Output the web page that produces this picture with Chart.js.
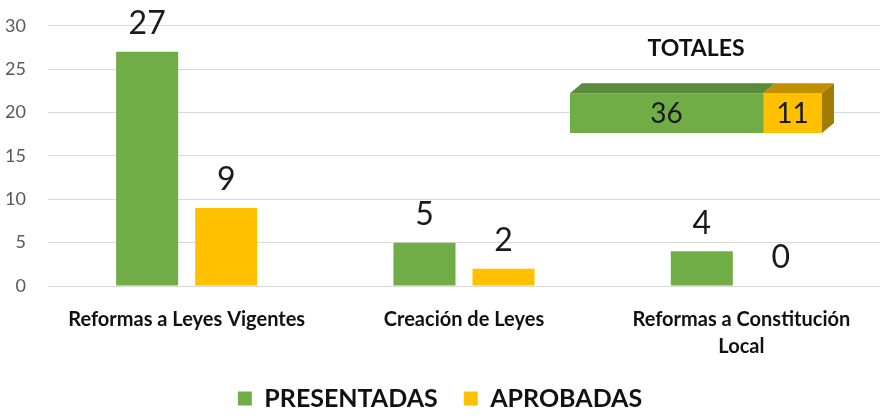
<!DOCTYPE html>
<html>
<head>
<meta charset="utf-8">
<script src="https://cdn.jsdelivr.net/npm/chart.js@4.4.1/dist/chart.umd.min.js"></script>
<style>
  html, body { margin: 0; padding: 0; background: #fff; }
  #wrap { position: relative; width: 880px; height: 416px; overflow: hidden; }
  #main { position: absolute; left: 0; top: -7px; }
  #totals { position: absolute; left: 558px; top: 27px; }
</style>
</head>
<body>
<div id="wrap">
  <canvas id="main" width="880" height="428"></canvas>
  <canvas id="totals" width="290" height="115"></canvas>
</div>
<script>
const categories = ['Reformas a Leyes Vigentes', 'Creación de Leyes', ['Reformas a Constitución', 'Local']];
const presentadas = [27, 5, 4];
const aprobadas = [9, 2, 0];
const yTicks = [0, 5, 10, 15, 20, 25, 30];
const totalPresentadas = [36];
const totalAprobadas = [11];

const GREEN = '#70AD47';
const YELLOW = '#FFC000';
const FONT = "Lato, 'Open Sans', sans-serif";

// numbers above each bar
const valueLabels = {
  id: 'valueLabels',
  afterDatasetsDraw(chart) {
    const ctx = chart.ctx;
    ctx.save();
    ctx.font = '32px ' + FONT;
    ctx.fillStyle = '#1a1a1a';
    ctx.textAlign = 'center';
    ctx.textBaseline = 'middle';
    chart.data.datasets.forEach((ds, i) => {
      chart.getDatasetMeta(i).data.forEach((bar, j) => {
        ctx.fillText(String(ds.data[j]), bar.x, bar.y - 28);
      });
    });
    ctx.restore();
  }
};

new Chart(document.getElementById('main'), {
  type: 'bar',
  data: {
    labels: categories,
    datasets: [
      { label: 'PRESENTADAS', data: presentadas, backgroundColor: GREEN },
      { label: 'APROBADAS', data: aprobadas, backgroundColor: YELLOW }
    ]
  },
  options: {
    responsive: false,
    animation: false,
    categoryPercentage: 0.57,
    barPercentage: 0.785,
    layout: { padding: { top: 18, right: 0, left: 0, bottom: 0 } },
    plugins: {
      legend: {
        position: 'bottom',
        labels: {
          boxWidth: 14, boxHeight: 14, padding: 26,
          color: '#111',
          font: { family: FONT, size: 25, weight: 'bold' }
        }
      },
      tooltip: { enabled: false }
    },
    scales: {
      x: {
        grid: { display: false },
        border: { display: false },
        ticks: {
          color: '#111', padding: 12,
          font: { family: FONT, size: 20, weight: 'bold', lineHeight: 1.35 },
          maxRotation: 0
        },
        afterFit(scale) { scale.height = 74; }
      },
      y: {
        min: 0, max: 30,
        afterBuildTicks(scale) { scale.ticks = yTicks.map(v => ({ value: v })); },
        grid: { color: '#d9d9d9', drawTicks: false },
        border: { display: false },
        ticks: {
          color: '#595959', padding: 22,
          font: { family: FONT, size: 18 }
        },
        afterFit(scale) { scale.width = 48; }
      }
    }
  },
  plugins: [valueLabels]
});

// 3D faces and inner labels for the totals bar
const box3d = {
  id: 'box3d',
  afterDatasetsDraw(chart) {
    const ctx = chart.ctx;
    const dx = 12, dy = 10;
    const tops = ['#5A8A3A', '#C09000'];
    const side = '#A07C00';
    const metas = chart.data.datasets.map((d, i) => chart.getDatasetMeta(i));
    ctx.save();
    metas.forEach((meta, i) => {
      meta.data.forEach(bar => {
        const x0 = bar.base, x1 = bar.x;
        const y0 = bar.y - bar.height / 2, y1 = bar.y + bar.height / 2;
        ctx.fillStyle = tops[i];
        ctx.beginPath();
        ctx.moveTo(x0, y0); ctx.lineTo(x1, y0);
        ctx.lineTo(x1 + dx, y0 - dy); ctx.lineTo(x0 + dx, y0 - dy);
        ctx.closePath(); ctx.fill();
        if (i === metas.length - 1) {
          ctx.fillStyle = side;
          ctx.beginPath();
          ctx.moveTo(x1, y0); ctx.lineTo(x1 + dx, y0 - dy);
          ctx.lineTo(x1 + dx, y1 - dy); ctx.lineTo(x1, y1);
          ctx.closePath(); ctx.fill();
        }
      });
    });
    ctx.font = '28px ' + FONT;
    ctx.fillStyle = '#1a1a1a';
    ctx.textAlign = 'center';
    ctx.textBaseline = 'middle';
    metas.forEach((meta, i) => {
      meta.data.forEach((bar, j) => {
        ctx.fillText(String(chart.data.datasets[i].data[j]), (bar.base + bar.x) / 2, bar.y + 1);
      });
    });
    ctx.restore();
  }
};

new Chart(document.getElementById('totals'), {
  type: 'bar',
  data: {
    labels: ['TOTALES'],
    datasets: [
      { label: 'PRESENTADAS', data: totalPresentadas, backgroundColor: GREEN },
      { label: 'APROBADAS', data: totalAprobadas, backgroundColor: YELLOW }
    ]
  },
  options: {
    responsive: false,
    animation: false,
    indexAxis: 'y',
    barPercentage: 1,
    categoryPercentage: 1,
    layout: { padding: { top: 0, left: 12, right: 26, bottom: 9 } },
    plugins: {
      legend: { display: false },
      tooltip: { enabled: false },
      title: {
        display: true, text: 'TOTALES', color: '#111',
        padding: { top: 10, bottom: 32 },
        font: { family: FONT, size: 23, weight: 'bold', lineHeight: 1.05 }
      }
    },
    scales: {
      x: { stacked: true, min: 0, max: 47, display: false },
      y: { stacked: true, display: false }
    }
  },
  plugins: [box3d]
});
</script>
</body>
</html>
